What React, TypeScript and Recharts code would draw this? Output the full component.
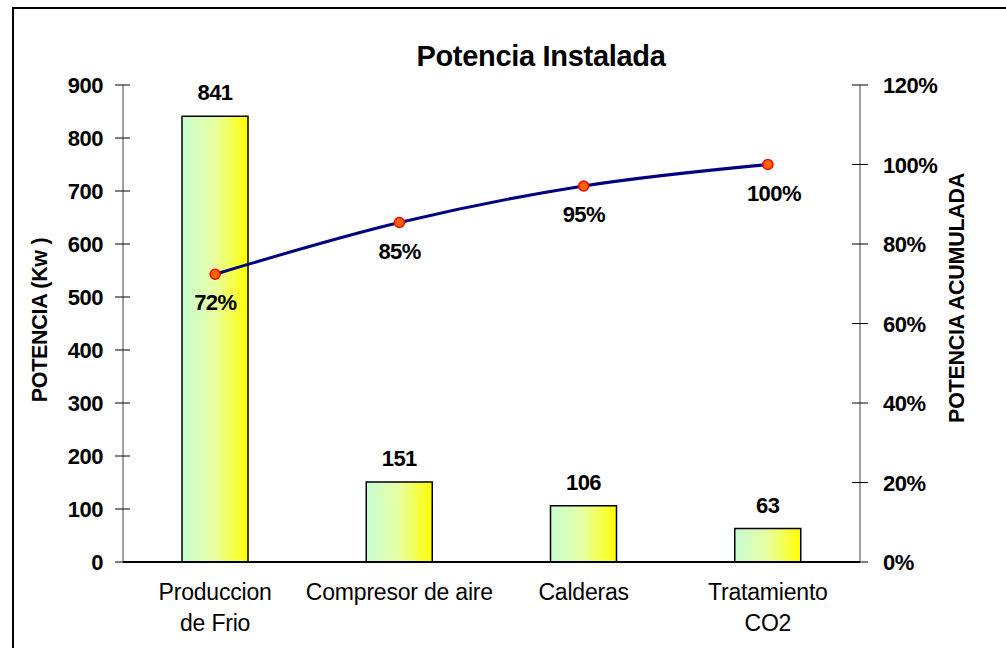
import React from "react";
import {
  ComposedChart,
  Bar,
  Line,
  XAxis,
  YAxis,
  LabelList,
} from "recharts";

const categories = ["Produccion\nde Frio", "Compresor de aire", "Calderas", "Tratamiento\nCO2"];
const potencia = [841, 151, 106, 63];
const acumulada = [0.724, 0.854, 0.946, 1.0];
const leftTicks = [0, 100, 200, 300, 400, 500, 600, 700, 800, 900];
const rightTicks = [0, 0.2, 0.4, 0.6, 0.8, 1.0, 1.2];
const boundaryTicks = [0, 1, 2, 3, 4];

const data = categories.map((c, i) => ({ name: c, potencia: potencia[i], acumulada: acumulada[i] }));

const FONT = "'Liberation Sans', Arial, sans-serif";
const pct = (v: number) => `${Math.round(v * 100)}%`;

const LeftTick = (props: any) => {
  const { x, y, payload } = props;
  const ax = x + 20;
  return (
    <g>
      <line x1={ax - 8} x2={ax + 7} y1={y} y2={y} stroke="#000" strokeWidth={1} />
      <text x={x} y={y} dy={8} textAnchor="end" fontFamily={FONT} fontWeight="bold" fontSize={22} fill="#000" letterSpacing={-0.5}>
        {payload.value}
      </text>
    </g>
  );
};

const RightTick = (props: any) => {
  const { x, y, payload } = props;
  const ax = x - 23;
  return (
    <g>
      <line x1={ax - 8} x2={ax + 8} y1={y} y2={y} stroke="#000" strokeWidth={1} />
      <text x={x} y={y} dy={8} textAnchor="start" fontFamily={FONT} fontWeight="bold" fontSize={22} fill="#000" letterSpacing={-0.5}>
        {pct(payload.value)}
      </text>
    </g>
  );
};

const CatTick = (props: any) => {
  const { x, y, payload } = props;
  const lines = String(payload.value).split("\n");
  return (
    <g>
      {lines.map((l, i) => (
        <text key={i} x={x} y={y + 30 + i * 31} textAnchor="middle" fontFamily={FONT} fontSize={23} fill="#000" letterSpacing={-0.2}>
          {l}
        </text>
      ))}
    </g>
  );
};

const BoundTick = (props: any) => {
  const { x, y } = props;
  return <line x1={x} x2={x} y1={y - 15} y2={y} stroke="#000" strokeWidth={1.5} />;
};

const BarLabel = (props: any) => {
  const { x, y, width, value } = props;
  return (
    <text x={x + width / 2} y={y - 16} textAnchor="middle" fontFamily={FONT} fontWeight="bold" fontSize={22} fill="#000" letterSpacing={-0.5}>
      {value}
    </text>
  );
};

const LineLabel = (props: any) => {
  const { x, y, value } = props;
  return (
    <text x={x - 21} y={y + 36} textAnchor="start" fontFamily={FONT} fontWeight="bold" fontSize={22} fill="#000" letterSpacing={-0.5}>
      {pct(value)}
    </text>
  );
};

export default function App() {
  return (
    <div style={{ position: "absolute", left: 0, top: 0, width: 1006, height: 648, overflow: "hidden", background: "#fff" }}>
      <div
        style={{
          position: "absolute",
          left: 12,
          top: 7,
          width: 1020,
          height: 700,
          borderLeft: "2px solid #000",
          borderTop: "2px solid #000",
        }}
      />
      <div style={{ position: "absolute", left: 0, top: 0 }}>
        <ComposedChart width={1006} height={648} data={data} margin={{ top: 85, right: 86, bottom: 26, left: 63 }}>
          <defs>
            <linearGradient id="barGrad" x1="0" y1="0" x2="1" y2="0">
              <stop offset="0%" stopColor="#c6fcd2" />
              <stop offset="50%" stopColor="#e8ffa0" />
              <stop offset="100%" stopColor="#ffff00" />
            </linearGradient>
          </defs>
          <text x={541} y={66} textAnchor="middle" fontFamily={FONT} fontWeight="bold" fontSize={29} fill="#000" letterSpacing={-0.3}>
            Potencia Instalada
          </text>
          <text
            x={0}
            y={0}
            transform="translate(47,320) rotate(-90)"
            textAnchor="middle"
            fontFamily={FONT}
            fontWeight="bold"
            fontSize={21.5}
            fill="#000"
            letterSpacing={-0.3}
          >
            POTENCIA (Kw )
          </text>
          <text
            x={0}
            y={0}
            transform="translate(964,298) rotate(-90)"
            textAnchor="middle"
            fontFamily={FONT}
            fontWeight="bold"
            fontSize={21.5}
            fill="#000"
            letterSpacing={-0.3}
          >
            POTENCIA ACUMULADA
          </text>
          <XAxis
            xAxisId="g"
            type="number"
            domain={[0, 4]}
            ticks={boundaryTicks}
            allowDataOverflow
            height={0}
            axisLine={false}
            tickLine={false}
            tickSize={6}
            tickMargin={2}
            tick={<BoundTick />}
          />
          <XAxis
            dataKey="name"
            height={60}
            axisLine={{ stroke: "#000", strokeWidth: 2 }}
            tickLine={false}
            tickSize={6}
            tickMargin={2}
            tick={<CatTick />}
            interval={0}
          />
          <YAxis
            yAxisId="left"
            width={60}
            domain={[0, 900]}
            ticks={leftTicks}
            axisLine={{ stroke: "#444", strokeWidth: 1 }}
            tickLine={false}
            tickSize={8}
            tickMargin={12}
            tick={<LeftTick />}
          />
          <YAxis
            yAxisId="right"
            orientation="right"
            width={60}
            domain={[0, 1.2]}
            ticks={rightTicks}
            axisLine={{ stroke: "#444", strokeWidth: 1 }}
            tickLine={false}
            tickSize={8}
            tickMargin={15}
            tick={<RightTick />}
          />
          <Bar
            yAxisId="left"
            dataKey="potencia"
            barSize={66}
            fill="url(#barGrad)"
            stroke="#000"
            strokeWidth={1.5}
            isAnimationActive={false}
          >
            <LabelList dataKey="potencia" content={<BarLabel />} />
          </Bar>
          <Line
            yAxisId="right"
            dataKey="acumulada"
            type="monotone"
            stroke="#000080"
            strokeWidth={3}
            dot={{ r: 5, fill: "#ff6600", stroke: "#ff0000", strokeWidth: 1.5 }}
            activeDot={false}
            isAnimationActive={false}
          >
            <LabelList dataKey="acumulada" content={<LineLabel />} />
          </Line>
        </ComposedChart>
      </div>
    </div>
  );
}
